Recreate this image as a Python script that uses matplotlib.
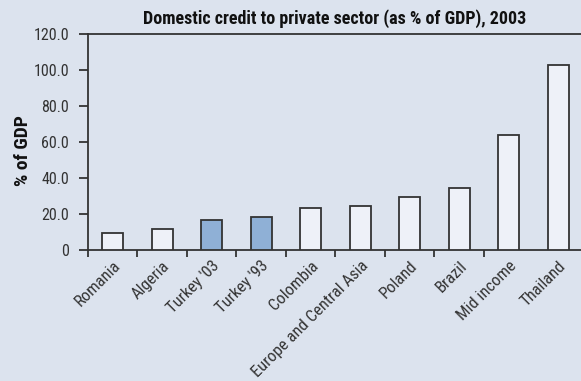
import numpy as np
import matplotlib
matplotlib.use("Agg")
import matplotlib.pyplot as plt

plt.rcParams['font.family'] = ['Roboto Condensed', 'DejaVu Sans']

countries = ['Romania', 'Algeria', "Turkey '03", "Turkey '93", 'Colombia',
             'Europe and Central Asia', 'Poland', 'Brazil', 'Mid income', 'Thailand']
credit = [9.6, 11.4, 16.4, 18.1, 23.2, 24.2, 29.3, 34.5, 63.6, 102.7]
highlight = [False, False, True, True, False, False, False, False, False, False]

bg = '#dce3ee'
ink = '#333333'

fig = plt.figure(figsize=(5.81, 3.81), dpi=100, facecolor=bg)
ax = fig.add_axes([88 / 581, 131 / 381, 493 / 581, 216.5 / 381], facecolor=bg)

x = np.arange(len(countries))
colors = ['#8fb0d6' if h else '#eef1f8' for h in highlight]
ax.bar(x, credit, width=0.42, color=colors, edgecolor=ink, linewidth=1.3, zorder=3)

ax.set_xlim(-0.5, 9.46)
ax.set_ylim(0, 120)
ax.set_yticks(np.arange(0, 121, 20))
ax.set_yticklabels(['0'] + ['%.1f' % v for v in np.arange(20, 121, 20)])

# labels sit under the bars, tick marks sit between them
ax.set_xticks(x)
ax.set_xticklabels(countries, rotation=45, ha='right', va='top',
                   rotation_mode='anchor')
ax.set_xticks(x[:-1] - 0.5, minor=True)
ax.tick_params(axis='x', which='major', length=0, pad=6, labelsize=12, colors=ink)
ax.tick_params(axis='x', which='minor', length=5, width=1.3, color=ink)
ax.tick_params(axis='y', length=6.5, width=1.3, color=ink, labelsize=11.5,
               labelcolor=ink, pad=7)

for side in ['left', 'bottom', 'top']:
    ax.spines[side].set_color(ink)
    ax.spines[side].set_linewidth(1.3)
ax.spines['right'].set_visible(False)

ax.set_ylabel('% of GDP', fontsize=14, fontweight='bold', color='#111111')
ax.yaxis.set_label_coords(-0.114, 0.457)
ax.set_title('Domestic credit to private sector (as % of GDP), 2003',
             fontsize=13, fontweight='bold', color='#111111', pad=7)

fig.savefig('out.png', dpi=100, facecolor=bg)
